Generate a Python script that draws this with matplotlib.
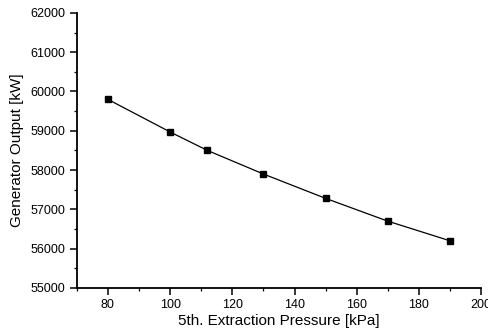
import matplotlib
matplotlib.use("Agg")
import matplotlib.pyplot as plt
from matplotlib.ticker import MultipleLocator

plt.rcParams['font.family'] = ['Liberation Sans', 'DejaVu Sans']

pressure = [80, 100, 112, 130, 150, 170, 190]
output_kw = [59800, 58970, 58500, 57900, 57280, 56700, 56200]
x_ticks = [80, 100, 120, 140, 160, 180, 200]
y_ticks = [55000, 56000, 57000, 58000, 59000, 60000, 61000, 62000]

fig = plt.figure(figsize=(4.89, 3.31), dpi=100)
ax = fig.add_axes([0.157, 0.130, 0.827, 0.831])

ax.plot(pressure, output_kw, color='black', lw=0.9, marker='s',
        markersize=4.5, markerfacecolor='black', markeredgecolor='black')

ax.set_xlim(70, 200)
ax.set_ylim(55000, 62000)
ax.set_xticks(x_ticks)
ax.set_yticks(y_ticks)
ax.xaxis.set_minor_locator(MultipleLocator(10))
ax.yaxis.set_minor_locator(MultipleLocator(500))

for side in ('top', 'right'):
    ax.spines[side].set_visible(False)
for side in ('left', 'bottom'):
    ax.spines[side].set_linewidth(1.3)

ax.tick_params(which='major', direction='out', length=5, width=1.1,
               labelsize=9, pad=3)
ax.tick_params(which='minor', direction='out', length=2.5, width=0.9)

ax.set_xlabel('5th. Extraction Pressure [kPa]', fontsize=11, labelpad=2)
ax.set_ylabel('Generator Output [kW]', fontsize=11, labelpad=5)

fig.savefig('out.png', dpi=100)
